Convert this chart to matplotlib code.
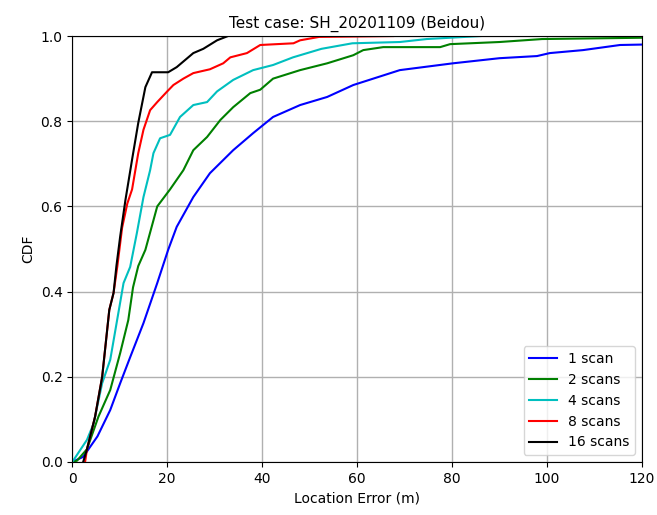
import matplotlib
matplotlib.use('Agg')
import matplotlib.pyplot as plt

# CDF curves (location error in m, cdf)
x_1 = [0, 2.3, 5.3, 8, 10.1, 12.2, 15, 17.9, 20.2, 22, 25.5, 29, 33.9, 38.1, 42.3, 48,
       53.7, 59.2, 69, 80.2, 90, 97.9, 100.6, 107.6, 115.4, 120]
y_1 = [0, 0.012, 0.06, 0.122, 0.185, 0.246, 0.326, 0.42, 0.498, 0.552, 0.622, 0.678, 0.732,
       0.772, 0.81, 0.838, 0.857, 0.885, 0.92, 0.936, 0.948, 0.953, 0.96, 0.967, 0.979, 0.98]

x_2 = [0, 1, 3.1, 5.5, 8, 10.1, 11.8, 12.8, 13.9, 15.4, 17.9, 20.6, 23.4, 25.5, 28.4, 31.2,
       33.9, 37.5, 39.6, 42.3, 48, 53.7, 59.2, 61.3, 65.5, 77.5, 79.6, 90, 99, 120]
y_2 = [0, 0.003, 0.03, 0.106, 0.169, 0.256, 0.333, 0.41, 0.46, 0.498, 0.6, 0.64, 0.685, 0.732,
       0.763, 0.803, 0.833, 0.866, 0.874, 0.9, 0.92, 0.936, 0.955, 0.967, 0.974, 0.974, 0.981,
       0.986, 0.993, 0.996]

x_4 = [0, 0.3, 3.1, 4.5, 6.3, 8, 10.8, 12.2, 13.6, 15, 16.4, 17.1, 18.5, 20.6, 22.7, 25.5,
       28.4, 30.5, 33.9, 38.1, 42.3, 46.5, 52.5, 59, 69, 74.7, 86]
y_4 = [0, 0.005, 0.052, 0.09, 0.185, 0.24, 0.42, 0.458, 0.537, 0.622, 0.685, 0.725, 0.76,
       0.768, 0.81, 0.838, 0.845, 0.87, 0.897, 0.92, 0.932, 0.95, 0.97, 0.983, 0.986, 0.993, 1.0]

x_8 = [2.7, 3.1, 4.8, 6.3, 7.8, 8.7, 9.5, 10.5, 11.6, 12.6, 13.9, 15, 16.4, 17.9, 20, 21.3,
       23.4, 25.5, 29, 31.8, 33.3, 36.8, 39.6, 46.6, 48, 52, 67.6]
y_8 = [0, 0.03, 0.106, 0.2, 0.357, 0.397, 0.46, 0.55, 0.607, 0.64, 0.725, 0.78, 0.826, 0.845,
       0.87, 0.885, 0.9, 0.913, 0.922, 0.936, 0.95, 0.96, 0.979, 0.983, 0.99, 0.998, 1.0]

x_16 = [2.3, 3.1, 4.8, 6.3, 7.8, 8.7, 9.3, 10.1, 11.2, 12.6, 13.9, 15.4, 16.8, 20.2, 22, 25.5,
        27.6, 30.5, 32.8]
y_16 = [0, 0.03, 0.106, 0.2, 0.357, 0.397, 0.46, 0.53, 0.615, 0.71, 0.796, 0.88, 0.915, 0.915,
        0.927, 0.96, 0.97, 0.99, 1.0]

labels = ['1 scan', '2 scans', '4 scans', '8 scans', '16 scans']
colors = ['b', 'g', 'c', 'r', 'k']

fig = plt.figure(figsize=(6.57, 5.15), dpi=100)
ax = fig.add_axes([0.11, 0.103, 0.867, 0.827])

series = [(x_1, y_1), (x_2, y_2), (x_4, y_4), (x_8, y_8), (x_16, y_16)]
for (xs, ys), lab, c in zip(series, labels, colors):
    ax.plot(xs, ys, color=c, lw=1.5, label=lab)

ax.set_xlim(0, 120)
ax.set_ylim(0, 1.0)
ax.set_xticks(range(0, 121, 20))
ax.set_yticks([0, 0.2, 0.4, 0.6, 0.8, 1.0])
ax.grid(True, color='#b0b0b0', lw=1)
ax.set_xlabel('Location Error (m)')
ax.set_ylabel('CDF')
ax.set_title('Test case: SH_20201109 (Beidou)', fontsize=11)
ax.legend(loc='lower right')

fig.savefig('out.png', dpi=100)
